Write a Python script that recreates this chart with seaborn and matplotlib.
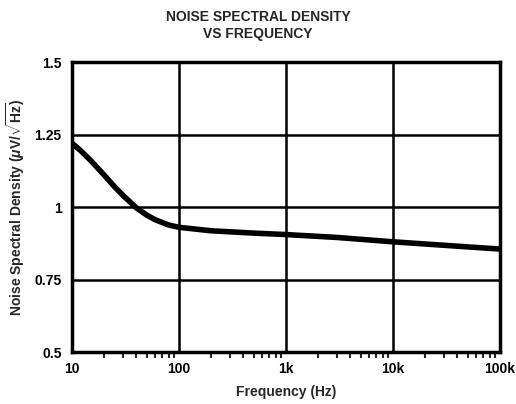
import seaborn as sns
import matplotlib.pyplot as plt
import matplotlib.ticker as mticker
import pandas as pd

# values
freq_hz = [10, 12, 15, 20, 25, 30, 40, 50, 60, 80, 100, 200, 500, 1000, 3000, 10000, 30000, 100000]
noise_uv = [1.22, 1.195, 1.16, 1.11, 1.07, 1.04, 0.997, 0.972, 0.956, 0.938, 0.93, 0.918, 0.91, 0.905,
            0.895, 0.88, 0.868, 0.855]

x_ticks = [10, 100, 1000, 10000, 100000]
x_labels = ['10', '100', '1k', '10k', '100k']
y_ticks = [0.5, 0.75, 1.0, 1.25, 1.5]
y_labels = ['0.5', '0.75', '1', '1.25', '1.5']


def plot_data(df):
    sns.set_style("white")
    plt.rcParams['font.family'] = ['Liberation Sans', 'DejaVu Sans']
    plt.rcParams['mathtext.fontset'] = 'custom'
    plt.rcParams['mathtext.rm'] = 'Liberation Sans:bold'
    plt.rcParams['mathtext.it'] = 'Liberation Sans:bold:italic'

    fig = plt.figure(figsize=(5.16, 4.04), dpi=100)
    ax = fig.add_axes([0.1395, 0.1287, 0.8295, 0.7178])

    sns.lineplot(data=df, x='freq', y='noise', ax=ax, color='black', linewidth=4.0)

    ax.set_xscale('log')
    ax.set_xlim(10, 100000)
    ax.set_ylim(0.5, 1.5)
    ax.set_xticks(x_ticks)
    ax.set_xticklabels(x_labels)
    ax.set_yticks(y_ticks)
    ax.set_yticklabels(y_labels)
    ax.xaxis.set_minor_locator(mticker.LogLocator(base=10, subs=range(2, 10)))
    ax.xaxis.set_minor_formatter(mticker.NullFormatter())

    ax.grid(True, which='major', color='black', linewidth=1.8)
    for s in ax.spines.values():
        s.set_color('black')
        s.set_linewidth(2.5)

    ax.tick_params(axis='both', which='major', direction='out', length=4, width=2,
                   labelsize=10, colors='black')
    ax.tick_params(axis='x', which='minor', direction='out', length=4, width=1.5, bottom=True)
    for lbl in ax.get_xticklabels() + ax.get_yticklabels():
        lbl.set_fontweight('bold')

    ax.set_xlabel('Frequency (Hz)', fontsize=10, fontweight='bold', labelpad=6)
    ax.set_ylabel(r'Noise Spectral Density ($\mu$V/$\sqrt{\mathrm{Hz}}$)', fontsize=10,
                  fontweight='bold', labelpad=5)
    fig.text(0.5, 0.975, 'NOISE SPECTRAL DENSITY\nVS FREQUENCY', ha='center', va='top',
             fontsize=10, fontweight='bold', linespacing=1.3)

    fig.savefig('out.png', dpi=100)


def main():
    df = pd.DataFrame({'freq': freq_hz, 'noise': noise_uv})
    plot_data(df)


if __name__ == "__main__":
    main()
